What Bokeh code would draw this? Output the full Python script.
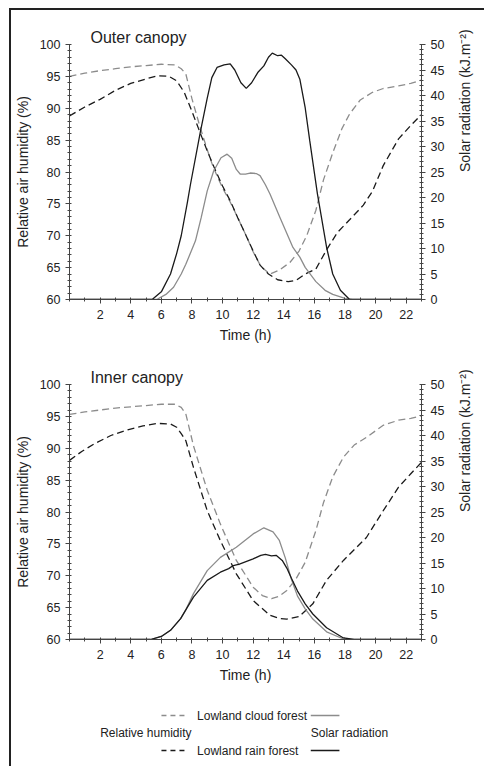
from bokeh.plotting import figure
from bokeh.models import Range1d, LinearAxis, FixedTicker, SingleIntervalTicker
from bokeh.layouts import column
from bokeh.core.properties import value
from bokeh.embed import file_html
from bokeh.resources import INLINE
import math

# ---------------- data ----------------
hour_ticks = [2, 4, 6, 8, 10, 12, 14, 16, 18, 20, 22]
hour_minor = list(range(0, 24))

# Outer canopy - relative humidity (%)
out_hum_cloud_t = [0, 1, 2, 3, 4, 5, 6, 6.9, 7.3, 7.6, 8.0, 8.5, 9.0, 9.4, 10.0, 10.5, 11.0, 11.6, 12.0, 12.5,
                   13.1, 13.7, 14.4, 15.0, 15.5, 16.1, 16.6, 17.2, 17.8, 18.3, 19.0, 19.8, 20.5, 21.5, 22.3, 23.0]
out_hum_cloud = [95.0, 95.5, 95.9, 96.2, 96.5, 96.7, 96.9, 96.8, 96.2, 95.4, 91.5, 87.3, 83.5, 80.7, 77.5, 75.3,
                 72.8, 69.7, 67.5, 65.2, 64.0, 64.6, 65.8, 67.6, 70.0, 74.0, 78.8, 83.0, 86.8, 89.1, 91.3, 92.5,
                 93.1, 93.5, 93.9, 94.4]
out_hum_rain_t = [0, 1, 2, 3, 4, 5, 5.75, 6.5, 7.0, 7.5, 8.0, 8.56, 9.0, 9.42, 10.0, 10.5, 11.0, 11.6, 12.0, 12.45,
                  13.0, 13.6, 14.3, 14.8, 15.4, 16.1, 16.8, 17.5, 18.3, 19.2, 19.8, 20.5, 21.5, 22.3, 23.0]
out_hum_rain = [88.8, 90.2, 91.4, 92.8, 93.9, 94.6, 95.1, 95.0, 94.3, 92.5, 89.5, 86.0, 83.3, 80.9, 77.8, 75.5,
                72.8, 69.7, 67.6, 65.4, 64.0, 63.1, 62.8, 63.0, 64.0, 64.8, 67.8, 70.5, 72.5, 74.8, 77.0, 81.0,
                85.2, 87.3, 89.0]

# Outer canopy - solar radiation (kJ.m-2)
out_rad_cloud_t = [0, 5.7, 6.3, 6.8, 7.3, 7.6, 8.23, 8.6, 9.0, 9.42, 9.9, 10.3, 10.6, 10.9, 11.15, 11.5, 11.8, 12.2,
                   12.45, 12.8, 13.1, 13.75, 14.6, 15.05, 15.4, 16.1, 16.7, 17.2, 18.0, 18.5, 23.0]
out_rad_cloud = [0, 0, 1.0, 2.4, 5.0, 6.9, 11.5, 16.0, 21.3, 25.2, 27.8, 28.5, 27.7, 25.5, 24.6, 24.6, 24.8, 24.7,
                 24.3, 22.5, 20.7, 16.1, 10.2, 8.3, 6.3, 3.5, 1.8, 1.0, 0.2, 0, 0]
out_rad_rain_t = [0, 5.4, 6.0, 6.6, 7.0, 7.3, 7.7, 7.9, 8.56, 9.0, 9.3, 9.64, 10.1, 10.5, 10.8, 11.2, 11.55, 11.9,
                  12.3, 12.7, 13.0, 13.25, 13.6, 13.85, 14.1, 14.5, 14.8, 15.05, 15.4, 15.7, 16.2, 16.8, 17.2,
                  17.7, 18.3, 23.0]
out_rad_rain = [0, 0, 1.5, 5.0, 9.0, 12.5, 19.0, 22.5, 33.0, 39.5, 43.5, 45.5, 46.0, 46.2, 45.0, 42.5, 41.4, 42.5,
                44.5, 45.8, 47.5, 48.3, 47.8, 47.9, 47.2, 46.0, 45.0, 43.2, 37.6, 31.1, 20.7, 10.2, 5.0, 1.8, 0, 0]

# Inner canopy - relative humidity (%)
in_hum_cloud_t = [0, 1, 2, 3, 4, 5, 6, 6.9, 7.3, 7.6, 8.1, 9.0, 9.86, 10.9, 12.0, 12.6, 13.2, 13.7, 14.2, 14.8,
                  15.4, 16.1, 16.6, 17.2, 17.9, 18.6, 19.4, 20.5, 21.5, 22.3, 23.0]
in_hum_cloud = [95.3, 95.7, 96.0, 96.3, 96.5, 96.7, 96.9, 96.9, 96.4, 95.4, 90.4, 83.4, 78.1, 72.4, 68.2, 66.9,
                66.4, 66.8, 67.7, 69.5, 72.1, 77.1, 81.5, 85.5, 88.6, 90.5, 91.7, 93.6, 94.4, 94.7, 95.1]
in_hum_rain_t = [0, 0.8, 1.63, 2.7, 3.8, 4.8, 5.75, 6.6, 7.0, 7.3, 7.6, 8.1, 9.0, 9.86, 10.9, 12.0, 13.1, 13.7, 14.2,
                 15.0, 15.9, 16.8, 17.9, 19.4, 20.5, 21.5, 22.3, 23.0]
in_hum_rain = [88.1, 89.5, 90.7, 92.0, 92.9, 93.5, 93.9, 93.8, 93.3, 92.3, 91.2, 87.0, 80.2, 75.5, 70.3, 66.1,
               63.8, 63.3, 63.2, 63.6, 65.6, 69.3, 72.4, 76.0, 80.2, 83.9, 86.0, 87.8]

# Inner canopy - solar radiation (kJ.m-2)
in_rad_cloud_t = [0, 5.3, 6.0, 6.6, 7.26, 7.58, 8.1, 9.0, 9.86, 10.9, 12.0, 12.7, 13.3, 13.7, 14.1, 14.5, 14.9,
                  15.4, 15.9, 16.8, 17.9, 18.3, 23.0]
in_rad_cloud = [0, 0, 0.6, 1.8, 4.1, 5.7, 9.0, 13.5, 16.1, 18.1, 20.7, 21.9, 21.1, 19.5, 16.0, 11.8, 8.5, 6.0,
                4.0, 1.5, 0.1, 0, 0]
in_rad_rain_t = [0, 5.3, 6.0, 6.6, 7.26, 7.58, 8.1, 9.0, 9.86, 10.4, 10.7, 11.1, 12.0, 12.5, 12.8, 13.2, 13.5, 13.9,
                 14.2, 14.5, 14.9, 15.4, 15.9, 16.8, 17.9, 18.6, 23.0]
in_rad_rain = [0, 0, 0.6, 1.8, 4.1, 5.7, 8.3, 11.6, 13.2, 13.9, 14.5, 14.8, 15.8, 16.5, 16.7, 16.4, 16.5, 15.5,
               14.0, 12.0, 9.5, 7.0, 5.0, 2.3, 0.3, 0, 0]

panel_titles = ["Outer canopy", "Inner canopy"]
legend_rows = ["Lowland cloud forest", "Lowland rain forest"]
group_labels = ["Relative humidity", "Solar radiation"]

# ---------------- style ----------------
FONT = "Liberation Sans"
TXT = "#222222"
AX = "#444444"
GRAY = "#8c8c8c"
BLACK = "#1a1a1a"
DASH = "7 4"
W = 473
BL, BR = 57, 60          # left / right borders (frame spans page x 68..424)


def make_panel(title, hc_t, hc, hr_t, hr, rc_t, rc, rr_t, rr, height, top, bottom):
    p = figure(width=W, height=height, output_backend="svg", toolbar_location=None,
               x_range=Range1d(0, 23), y_range=Range1d(60, 100),
               min_border_left=BL, min_border_right=BR, min_border_top=top, min_border_bottom=bottom)
    p.outline_line_color = None
    p.grid.visible = False
    p.background_fill_color = "white"
    p.border_fill_color = "white"

    p.title.text = title
    p.title.align = "left"
    p.title.offset = 21
    p.title.text_font = FONT
    p.title.text_font_size = "16px"
    p.title.text_font_style = "normal"
    p.title.text_color = TXT
    p.title.standoff = -3

    p.extra_y_ranges = {"rad": Range1d(0, 50)}
    rax = LinearAxis(y_range_name="rad", axis_label="Solar radiation (kJ.m\u207b\u00b2)")
    p.add_layout(rax, "right")

    p.xaxis.ticker = FixedTicker(ticks=hour_ticks, minor_ticks=hour_minor)
    p.xaxis.axis_label = "Time (h)"
    p.yaxis[0].ticker = SingleIntervalTicker(interval=5, num_minor_ticks=5)
    p.yaxis[0].axis_label = "Relative air humidity (%)"
    rax.ticker = SingleIntervalTicker(interval=5, num_minor_ticks=5)

    for ax in p.axis:
        ax.axis_line_color = AX
        ax.major_tick_line_color = AX
        ax.minor_tick_line_color = AX
        ax.major_tick_out = 4
        ax.major_tick_in = 0
        ax.minor_tick_out = 2
        ax.minor_tick_in = 2
        ax.major_label_text_font = FONT
        ax.major_label_text_font_size = "12.5px"
        ax.major_label_text_color = TXT
        ax.axis_label_text_font = FONT
        ax.axis_label_text_font_size = "14px"
        ax.axis_label_text_font_style = "normal"
        ax.axis_label_text_color = TXT
    p.xaxis.major_label_standoff = 6
    p.xaxis.axis_label_standoff = 5
    p.yaxis[0].major_label_standoff = 5
    p.yaxis[0].axis_label_standoff = 6
    rax.major_label_standoff = 5
    rax.axis_label_standoff = 18
    rax.axis_label_orientation = math.pi / 2

    p.line(hc_t, hc, color=GRAY, line_width=1.3, line_dash=DASH)
    p.line(hr_t, hr, color=BLACK, line_width=1.3, line_dash=DASH)
    p.line(rc_t, rc, color=GRAY, line_width=1.3, y_range_name="rad")
    p.line(rr_t, rr, color=BLACK, line_width=1.3, y_range_name="rad")
    return p


p1 = make_panel(panel_titles[0], out_hum_cloud_t, out_hum_cloud, out_hum_rain_t, out_hum_rain,
                out_rad_cloud_t, out_rad_cloud, out_rad_rain_t, out_rad_rain, height=342, top=34, bottom=53)
p2 = make_panel(panel_titles[1], in_hum_cloud_t, in_hum_cloud, in_hum_rain_t, in_hum_rain,
                in_rad_cloud_t, in_rad_cloud, in_rad_rain_t, in_rad_rain, height=338, top=32, bottom=51)

# ---------------- legend (frame aligned with the panels; x in page pixels) ----------------
LH = 76
lg = figure(width=W, height=LH, output_backend="svg", toolbar_location=None,
            x_range=Range1d(68, 424), y_range=Range1d(0, LH),
            min_border_left=BL, min_border_right=BR, min_border_top=0, min_border_bottom=0)
lg.axis.visible = False
lg.grid.visible = False
lg.outline_line_color = None

legend_colors = [GRAY, BLACK]
row_y = [51, 16]
for lab, col, yy in zip(legend_rows, legend_colors, row_y):
    lg.line([161, 185], [yy, yy], color=col, line_width=1.3, line_dash="5 4")
    lg.line([312, 341], [yy, yy], color=col, line_width=1.3)
    lg.text(x=[197], y=[yy], text=[lab], text_font=value(FONT), text_font_size="12px",
            text_color=TXT, text_baseline="middle", text_align="left")
lg.text(x=[99, 312], y=[33.5, 33.5], text=group_labels, text_font=value(FONT), text_font_size="12px",
        text_color=TXT, text_baseline="middle", text_align="left")

layout = column(p1, p2, lg, spacing=0,
                styles={"margin-left": "9px", "margin-top": "8px",
                        "border-left": "2px solid #222", "border-top": "2px solid #222"})

open("out.html", "w").write(file_html(layout, INLINE))
